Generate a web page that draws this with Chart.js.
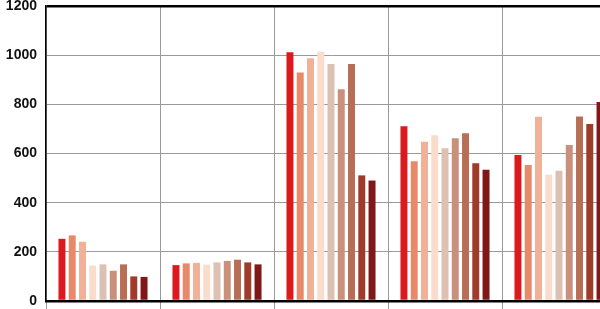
<!DOCTYPE html>
<html>
<head>
<meta charset="utf-8">
<script src="https://cdn.jsdelivr.net/npm/chart.js@4/dist/chart.umd.min.js"></script>
<style>
  html, body { margin: 0; padding: 0; background: #fff; overflow: hidden; }
  #wrap { width: 616px; height: 309px; position: relative; }
</style>
</head>
<body>
<div id="wrap"><canvas id="chart"></canvas></div>
<script>
const groups = ['A', 'B', 'C', 'D', 'E'];

const s1 = [253, 146, 1012, 711, 594];
const s2 = [267, 153, 929, 568, 553];
const s3 = [241, 155, 987, 648, 749];
const s4 = [144, 148, 1014, 674, 514];
const s5 = [149, 157, 964, 621, 530];
const s6 = [123, 163, 861, 662, 635];
const s7 = [149, 168, 964, 682, 751];
const s8 = [100, 157, 511, 560, 720];
const s9 = [98, 149, 490, 534, 810];

const seriesColors = ['#dc1a1e', '#e8896a', '#f0b196', '#fadccc', '#dcc0b2',
                      '#c9917b', '#b76e55', '#9e3b2a', '#811818'];

const yTicks = [0, 200, 400, 600, 800, 1000, 1200];

const allSeries = [s1, s2, s3, s4, s5, s6, s7, s8, s9];

const barData = {
    labels: groups,
    datasets: allSeries.map((vals, i) => ({
        label: 'Series ' + (i + 1),
        data: vals,
        backgroundColor: seriesColors[i],
        borderWidth: 0,
        categoryPercentage: 0.81,
        barPercentage: 0.68
    }))
};

new Chart(document.getElementById('chart'), {
    type: 'bar',
    data: barData,
    options: {
        responsive: true,
        maintainAspectRatio: false,
        animation: false,
        layout: { padding: { left: 6, top: 6, right: 0, bottom: 0 } },
        plugins: {
            legend: { display: false },
            tooltip: { enabled: false }
        },
        scales: {
            x: {
                afterFit: axis => { axis.height = 8; },
                grid: {
                    color: '#9a9a9a',
                    lineWidth: 1,
                    drawTicks: true,
                    tickLength: 8
                },
                border: { display: true, color: '#000', width: 2 },
                ticks: { display: false }
            },
            y: {
                min: 0,
                max: 1200,
                afterBuildTicks: axis => {
                    axis.ticks = yTicks.map(v => ({ value: v }));
                },
                afterFit: axis => {
                    axis.width = 40;
                    axis.paddingTop = 0;
                    axis.paddingBottom = 0;
                },
                grid: {
                    drawTicks: false,
                    color: ctx => (ctx.tick.value === 1200 || ctx.tick.value === 0) ? '#000' : '#9a9a9a',
                    lineWidth: ctx => (ctx.tick.value === 1200 || ctx.tick.value === 0) ? 2.5 : 1
                },
                border: { display: true, color: '#000', width: 1.5 },
                ticks: {
                    padding: 9,
                    color: '#111',
                    callback: v => String(v),
                    font: { family: '"Liberation Sans Narrow", "Liberation Sans", sans-serif', size: 14, weight: 'bold' }
                }
            }
        }
    }
});
</script>
</body>
</html>
